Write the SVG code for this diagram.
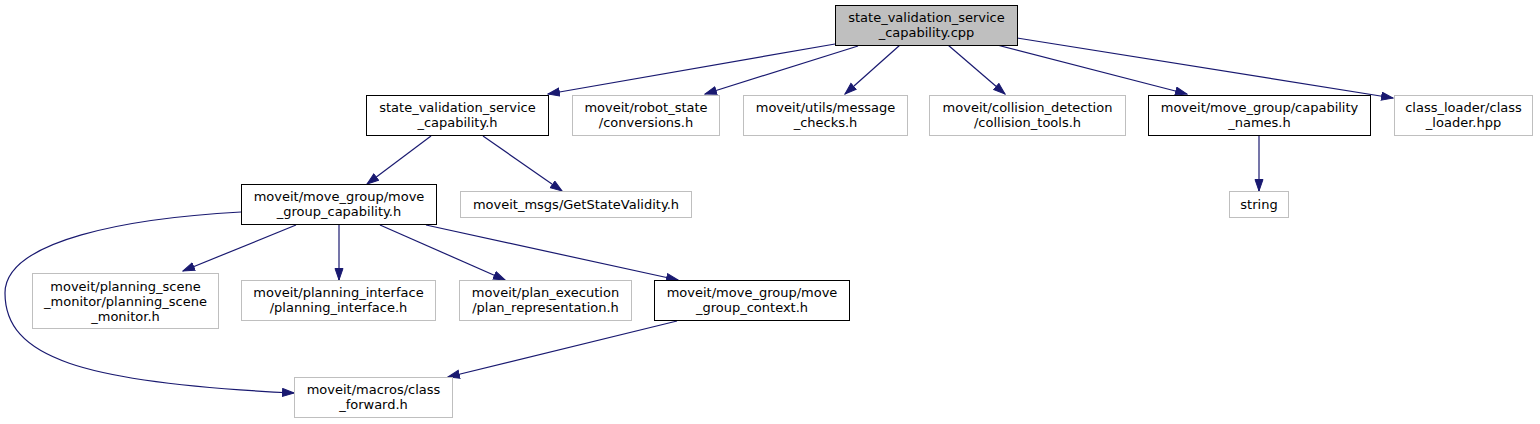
<svg xmlns="http://www.w3.org/2000/svg" width="1540" height="424" viewBox="0 0 1540 424">
<defs>
<style>
.n rect{fill:#ffffff;stroke:#bfbfbf;stroke-width:1}
.n.b rect{stroke:#000000}
.n.root rect{fill:#bfbfbf;stroke:#000000}
.n text{font-family:"DejaVu Sans",sans-serif;font-size:13px;fill:#000000;text-anchor:middle}
.e path{fill:none;stroke:#191970;stroke-width:1.2;marker-end:url(#ah)}
</style>
<marker id="ah" markerUnits="userSpaceOnUse" markerWidth="13" markerHeight="10" refX="12" refY="4.5" orient="auto">
<path d="M0.5,0.5 L12,4.5 L0.5,8.5 z" fill="#191970" stroke="#191970" stroke-width="1"/>
</marker>
</defs>
<rect width="1540" height="424" fill="#ffffff"/>
<g id="edges" class="e">
<path d="M835,44 L548,94"/>
<path d="M858,46 L705,94"/>
<path d="M900,45 L845,94"/>
<path d="M948,45 L1005,94"/>
<path d="M997,45 L1187,94"/>
<path d="M1017,38 L1393,98"/>
<path d="M1259,136 L1259,191"/>
<path d="M431,136 L367,184"/>
<path d="M483,136 L562,191"/>
<path d="M296,225 L183,271"/>
<path d="M339,225 L339,280"/>
<path d="M380,225 L505,280"/>
<path d="M426,225 L678,280"/>
<path d="M241,212 C130,218 5,240 5,293 C5,357 80,383 294,393"/>
<path d="M677,321 L448,377"/>
</g>
<g id="n1" class="n root"><rect x="835.5" y="5.5" width="182" height="40"/><text x="926.5" y="22">state_validation_service</text><text x="926.5" y="37">_capability.cpp</text></g>
<g id="n2" class="n b"><rect x="366.5" y="95.5" width="182" height="40"/><text x="457.5" y="112">state_validation_service</text><text x="457.5" y="127">_capability.h</text></g>
<g id="n3" class="n"><rect x="572.5" y="95.5" width="147" height="40"/><text x="646" y="112">moveit/robot_state</text><text x="646" y="127">/conversions.h</text></g>
<g id="n4" class="n"><rect x="743.5" y="95.5" width="164" height="40"/><text x="825.5" y="112">moveit/utils/message</text><text x="825.5" y="127">_checks.h</text></g>
<g id="n5" class="n"><rect x="929.5" y="95.5" width="196" height="40"/><text x="1027.5" y="112">moveit/collision_detection</text><text x="1027.5" y="127">/collision_tools.h</text></g>
<g id="n6" class="n b"><rect x="1148.5" y="95.5" width="222" height="40"/><text x="1259.5" y="112">moveit/move_group/capability</text><text x="1259.5" y="127">_names.h</text></g>
<g id="n7" class="n"><rect x="1394.5" y="95.5" width="138" height="40"/><text x="1463.5" y="112">class_loader/class</text><text x="1463.5" y="127">_loader.hpp</text></g>
<g id="n8" class="n"><rect x="1229.5" y="191.5" width="59" height="26"/><text x="1259" y="209">string</text></g>
<g id="n9" class="n b"><rect x="241.5" y="184.5" width="195" height="40"/><text x="339" y="201">moveit/move_group/move</text><text x="339" y="216">_group_capability.h</text></g>
<g id="n10" class="n"><rect x="460.5" y="191.5" width="231" height="26"/><text x="576" y="209">moveit_msgs/GetStateValidity.h</text></g>
<g id="n11" class="n"><rect x="32.5" y="273.5" width="186" height="55"/><text x="125.5" y="290.5">moveit/planning_scene</text><text x="125.5" y="305.5">_monitor/planning_scene</text><text x="125.5" y="320.5">_monitor.h</text></g>
<g id="n12" class="n"><rect x="241.5" y="280.5" width="194" height="40"/><text x="338.5" y="297">moveit/planning_interface</text><text x="338.5" y="312">/planning_interface.h</text></g>
<g id="n13" class="n"><rect x="459.5" y="280.5" width="172" height="40"/><text x="545.5" y="297">moveit/plan_execution</text><text x="545.5" y="312">/plan_representation.h</text></g>
<g id="n14" class="n b"><rect x="654.5" y="280.5" width="195" height="40"/><text x="752" y="297">moveit/move_group/move</text><text x="752" y="312">_group_context.h</text></g>
<g id="n15" class="n"><rect x="294.5" y="377.5" width="158" height="40"/><text x="373.5" y="394">moveit/macros/class</text><text x="373.5" y="409">_forward.h</text></g>
</svg>
